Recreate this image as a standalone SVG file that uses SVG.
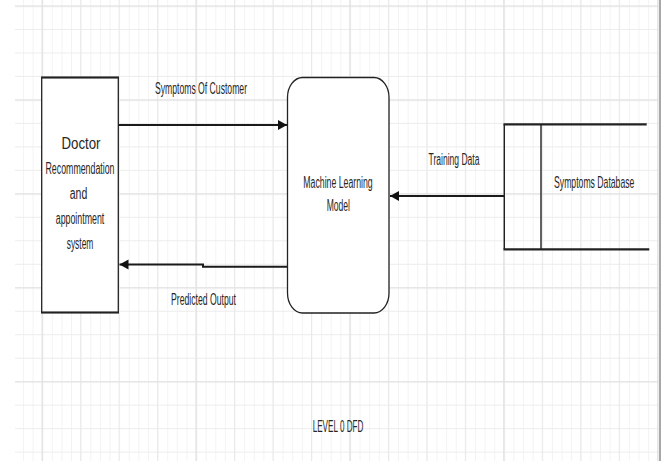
<svg xmlns="http://www.w3.org/2000/svg" width="663" height="461" viewBox="0 0 663 461">
<style>
.lbl{font-family:"Liberation Sans",Arial,sans-serif;font-size:16px;fill:#262626;text-anchor:middle}
.edge{fill:none;stroke:#1a1a1a;stroke-width:2}
.shape{fill:#ffffff;stroke:#222;stroke-width:1.3}
.thick{stroke:#222;stroke-width:2.2;fill:none}
</style>
<defs>
<pattern id="gMinV" patternUnits="userSpaceOnUse" x="3.73" y="0" width="9.6175" height="461"><rect x="0" y="0" width="1" height="461" fill="#f3f3f3"/></pattern>
<pattern id="gMajV" patternUnits="userSpaceOnUse" x="41.7" y="0" width="38.47" height="461"><rect x="0" y="0" width="1" height="461" fill="#e9e9e9"/></pattern>
<pattern id="gBigV" patternUnits="userSpaceOnUse" x="41.7" y="0" width="153.88" height="461"><rect x="0" y="0" width="1.2" height="461" fill="#e2e2e2"/></pattern>
<pattern id="gMajH" patternUnits="userSpaceOnUse" x="0" y="5.5" width="663" height="23.48"><rect x="0" y="0" width="663" height="1" fill="#ececec"/></pattern>
<pattern id="gBigH" patternUnits="userSpaceOnUse" x="0" y="5.5" width="663" height="93.92"><rect x="0" y="0" width="663" height="1.3" fill="#e3e3e3"/></pattern>
<marker id="arr" markerUnits="userSpaceOnUse" markerWidth="12" markerHeight="12" refX="9" refY="5" orient="auto">
<path d="M0,0 L9,5 L0,10 Z" fill="#111"/>
</marker>
</defs>
<rect width="663" height="461" fill="#ffffff"/>
<g id="grid">
<rect x="15" y="0" width="644" height="461" fill="url(#gMinV)"/>
<rect x="15" y="0" width="644" height="461" fill="url(#gMajH)"/>
<rect x="15" y="0" width="644" height="461" fill="url(#gMajV)"/>
<rect x="15" y="0" width="644" height="461" fill="url(#gBigH)"/>
<rect x="15" y="0" width="644" height="461" fill="url(#gBigV)"/>
<rect x="659" y="0" width="2" height="461" fill="#a8a8a8"/>
</g>
<g id="connectors">
<path class="edge" d="M118,125 L287,125" marker-end="url(#arr)"/>
<path class="edge" d="M287,266.8 L203,266.8 L203,264.5 L119.5,264.5" marker-end="url(#arr)"/>
<path class="edge" d="M504,196 L390,196" marker-end="url(#arr)"/>
<text class="lbl" x="201" y="94" textLength="92" lengthAdjust="spacingAndGlyphs">Symptoms Of Customer</text>
<text class="lbl" x="203.5" y="305" textLength="65" lengthAdjust="spacingAndGlyphs">Predicted Output</text>
<text class="lbl" x="454" y="165" textLength="51" lengthAdjust="spacingAndGlyphs">Training Data</text>
</g>
<g id="doctor-system">
<rect class="shape" x="41.7" y="77.5" width="76.6" height="235"/>
<path class="thick" d="M41,77.5 H119 M41,312.5 H119"/>
<text class="lbl" x="81" y="149" textLength="39" lengthAdjust="spacingAndGlyphs">Doctor</text>
<text class="lbl" x="80" y="174" textLength="69" lengthAdjust="spacingAndGlyphs">Recommendation</text>
<text class="lbl" x="78.5" y="199" textLength="17.5" lengthAdjust="spacingAndGlyphs">and</text>
<text class="lbl" x="80" y="224" textLength="48.5" lengthAdjust="spacingAndGlyphs">appointment</text>
<text class="lbl" x="80" y="248.5" textLength="26.6" lengthAdjust="spacingAndGlyphs">system</text>
</g>
<g id="ml-model">
<rect class="shape" x="287.5" y="77.5" width="101.5" height="235.5" rx="15" ry="20" stroke-width="1.8"/>
<text class="lbl" x="338" y="188" textLength="69.4" lengthAdjust="spacingAndGlyphs">Machine Learning</text>
<text class="lbl" x="338.3" y="211" textLength="23.3" lengthAdjust="spacingAndGlyphs">Model</text>
</g>
<g id="symptoms-database">
<path d="M504.3,124.3 V249.3 M541,124.3 V249.3" stroke="#222" stroke-width="1.4" fill="none"/>
<path class="thick" d="M503.5,124.3 H646.7 M503.5,249.3 H649.3"/>
<text class="lbl" x="0" y="0" transform="translate(594.2,188.3) scale(0.541,1)">Symptoms Database</text>
</g>
<g id="title">
<text class="lbl" x="338" y="431.7" textLength="50.6" lengthAdjust="spacingAndGlyphs">LEVEL 0 DFD</text>
</g>
</svg>
